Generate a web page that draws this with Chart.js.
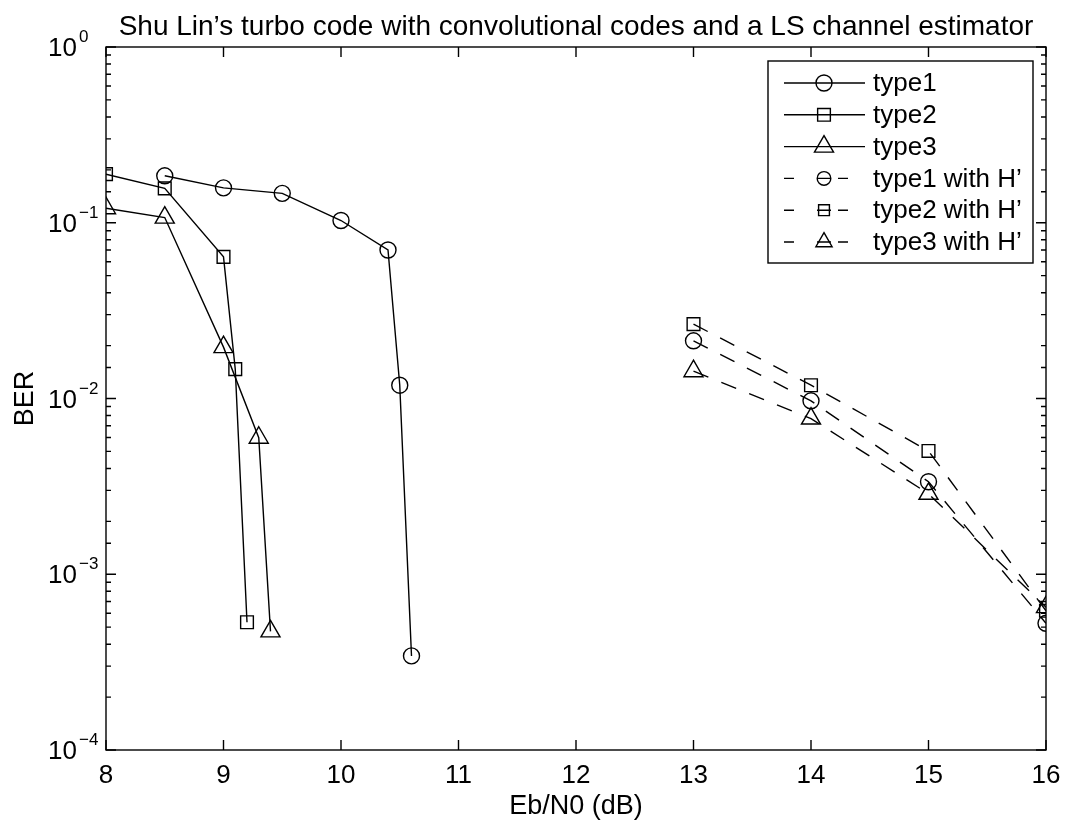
<!DOCTYPE html>
<html>
<head>
<meta charset="utf-8">
<script src="https://cdn.jsdelivr.net/npm/chart.js@4"></script>
<style>
  html, body { margin: 0; padding: 0; background: #fff; }
  #wrap { width: 1065px; height: 822px; }
</style>
</head>
<body>
<div id="wrap"><canvas id="berChart" width="1065" height="822"></canvas></div>
<script>
// BER curves, Eb/N0 in dB
const type1X = [8.5, 9, 9.5, 10, 10.4, 10.5, 10.6];
const type1Ber = [0.185, 0.158, 0.147, 0.103, 0.070, 0.0119, 0.000343];
const type2X = [8, 8.5, 9, 9.1, 9.2];
const type2Ber = [0.189, 0.157, 0.064, 0.0147, 0.000533];
const type3X = [8, 8.5, 9, 9.3, 9.4];
const type3Ber = [0.121, 0.107, 0.0196, 0.00598, 0.000473];
const estX = [13, 14, 15, 16];
const type1EstBer = [0.0213, 0.0097, 0.00336, 0.000526];
const type2EstBer = [0.0265, 0.0119, 0.00503, 0.00062];
const type3EstBer = [0.0143, 0.00769, 0.00287, 0.00065];

const seriesNames = ['type1', 'type2', 'type3', 'type1 with H\u2019', 'type2 with H\u2019', 'type3 with H\u2019'];
const titleText = 'Shu Lin\u2019s turbo code with convolutional codes and a LS channel estimator';
const xTitle = 'Eb/N0 (dB)';
const yTitle = 'BER';
const xTicks = [8, 9, 10, 11, 12, 13, 14, 15, 16];
const yDecades = [0, -1, -2, -3, -4];

const FONT = '"Liberation Sans", Arial, Helvetica, sans-serif';
const markers = ['circle', 'rect', 'triangle'];
const markerSize = { circle: 8, rect: 9, triangle: 11 };

function pts(xs, ys) {
  return xs.map((x, i) => ({ x: x, y: ys[i] }));
}

function makeSet(i, xs, ys) {
  const shape = markers[i % 3];
  return {
    label: seriesNames[i],
    data: pts(xs, ys),
    borderColor: '#000',
    borderWidth: 1.4,
    borderDash: i >= 3 ? [16, 14] : [],
    pointStyle: shape,
    pointRadius: markerSize[shape],
    pointHoverRadius: markerSize[shape],
    pointBorderColor: '#000',
    pointBorderWidth: 1.4,
    pointBackgroundColor: 'rgba(0,0,0,0)',
    fill: false,
    tension: 0
  };
}

// axes box, inward ticks, labels, titles and legend, drawn like a matlab figure
const figureDecor = {
  id: 'figureDecor',
  afterDraw(chart) {
    const ctx = chart.ctx;
    const a = chart.chartArea;
    const xs = chart.scales.x;
    const ys = chart.scales.y;
    ctx.save();
    ctx.strokeStyle = '#000';
    ctx.fillStyle = '#000';
    ctx.lineWidth = 1.4;
    ctx.setLineDash([]);

    // box
    ctx.strokeRect(a.left, a.top, a.right - a.left, a.bottom - a.top);

    // x ticks top and bottom
    ctx.beginPath();
    xTicks.forEach(v => {
      const px = xs.getPixelForValue(v);
      ctx.moveTo(px, a.bottom); ctx.lineTo(px, a.bottom - 10);
      ctx.moveTo(px, a.top); ctx.lineTo(px, a.top + 10);
    });
    // y ticks from the log scale, majors at powers of ten
    ys.ticks.forEach(t => {
      const py = ys.getPixelForValue(t.value);
      const e = Math.log10(t.value);
      const len = Math.abs(e - Math.round(e)) < 1e-9 ? 10 : 5;
      ctx.moveTo(a.left, py); ctx.lineTo(a.left + len, py);
      ctx.moveTo(a.right, py); ctx.lineTo(a.right - len, py);
    });
    ctx.stroke();

    // x tick labels
    ctx.font = '26px ' + FONT;
    ctx.textAlign = 'center';
    ctx.textBaseline = 'alphabetic';
    xTicks.forEach(v => {
      ctx.fillText(String(v), xs.getPixelForValue(v), a.bottom + 33);
    });

    // y tick labels 10^n
    yDecades.forEach(e => {
      const py = ys.getPixelForValue(Math.pow(10, e));
      ctx.font = '26px ' + FONT;
      ctx.textAlign = 'right';
      ctx.fillText('10', a.left - 29, py + 9);
      ctx.font = '17px ' + FONT;
      ctx.textAlign = 'left';
      ctx.fillText(e < 0 ? '\u2212' + (-e) : String(e), a.left - 27, py - 5);
    });

    // titles
    ctx.textAlign = 'center';
    ctx.font = '28px ' + FONT;
    ctx.fillText(titleText, (a.left + a.right) / 2, 35);
    ctx.font = '27px ' + FONT;
    ctx.fillText(xTitle, (a.left + a.right) / 2, a.bottom + 64);
    ctx.save();
    ctx.translate(33, (a.top + a.bottom) / 2);
    ctx.rotate(-Math.PI / 2);
    ctx.fillText(yTitle, 0, 0);
    ctx.restore();

    // legend
    const lx = 768, ly = 61, lw = 265, lh = 202;
    ctx.fillStyle = '#fff';
    ctx.fillRect(lx, ly, lw, lh);
    ctx.strokeRect(lx, ly, lw, lh);
    chart.data.datasets.forEach((ds, i) => {
      const rowY = ly + 22 + i * 31.8;
      const x0 = lx + 16, x1 = lx + 97, mx = lx + 56;
      ctx.beginPath();
      if (i < 3) {
        ctx.moveTo(x0, rowY); ctx.lineTo(x1, rowY);
      } else {
        ctx.moveTo(x0, rowY); ctx.lineTo(x0 + 10, rowY);
        ctx.moveTo(mx - 7, rowY); ctx.lineTo(mx + 7, rowY);
        ctx.moveTo(mx + 14, rowY); ctx.lineTo(mx + 24, rowY);
      }
      ctx.stroke();
      const shape = ds.pointStyle;
      const r = i < 3 ? ds.pointRadius : ds.pointRadius * 0.85;
      ctx.fillStyle = 'rgba(0,0,0,0)';
      Chart.helpers.drawPoint(ctx, { pointStyle: shape, radius: r, borderWidth: 1.4, rotation: 0 }, mx, rowY);
      ctx.fillStyle = '#000';
      ctx.font = '26px ' + FONT;
      ctx.textAlign = 'left';
      ctx.textBaseline = 'middle';
      ctx.fillText(ds.label, lx + 105, rowY + 1);
      ctx.textBaseline = 'alphabetic';
    });
    ctx.restore();
  }
};

new Chart(document.getElementById('berChart'), {
  type: 'line',
  data: {
    datasets: [
      makeSet(0, type1X, type1Ber),
      makeSet(1, type2X, type2Ber),
      makeSet(2, type3X, type3Ber),
      makeSet(3, estX, type1EstBer),
      makeSet(4, estX, type2EstBer),
      makeSet(5, estX, type3EstBer)
    ]
  },
  options: {
    responsive: false,
    animation: false,
    layout: { padding: { left: 106, right: 19, top: 47, bottom: 72 } },
    plugins: {
      legend: { display: false },
      title: { display: false },
      tooltip: { enabled: false }
    },
    scales: {
      x: {
        type: 'linear', min: 8, max: 16,
        grid: { display: false },
        border: { display: false },
        ticks: { display: false },
        afterFit(scale) { scale.height = 0; }
      },
      y: {
        type: 'logarithmic', min: 1e-4, max: 1,
        grid: { display: false },
        border: { display: false },
        ticks: { display: false, autoSkip: false },
        afterFit(scale) { scale.width = 0; }
      }
    }
  },
  plugins: [figureDecor]
});
</script>
</body>
</html>
